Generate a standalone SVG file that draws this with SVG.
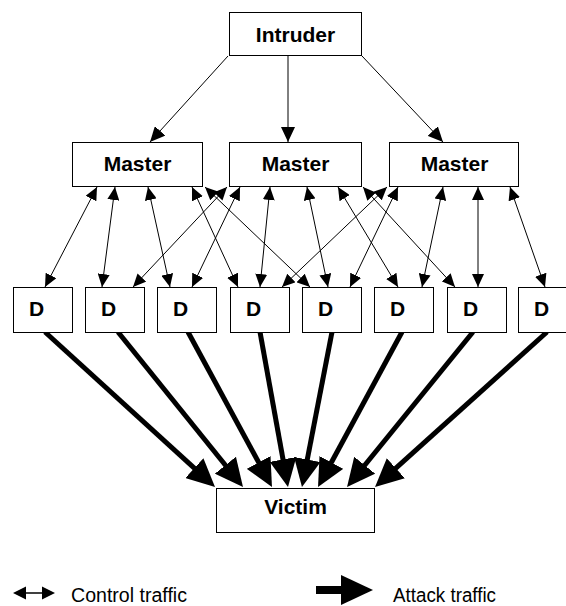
<svg xmlns="http://www.w3.org/2000/svg" width="566" height="606" viewBox="0 0 566 606">
  <style>
    .box { fill: #fff; stroke: #000; stroke-width: 1; }
    .lbl { font-family: "Liberation Sans", Arial, sans-serif; font-weight: bold; font-size: 21px; fill: #000; text-anchor: middle; }
    .dl { font-family: "Liberation Sans", Arial, sans-serif; font-weight: bold; font-size: 21px; fill: #000; }
    .leg { font-family: "Liberation Sans", Arial, sans-serif; font-size: 20px; fill: #000; }
    .cmd { stroke: #000; stroke-width: 1; fill: none; marker-end: url(#headCmd); }
    .ctl { stroke: #000; stroke-width: 1; fill: none; marker-start: url(#headCtl); marker-end: url(#headCtl); }
    .atk { stroke: #000; stroke-width: 5; fill: none; marker-end: url(#headAtk); }
  </style>
  <defs>
    <marker id="headCmd" viewBox="0 0 15 14" refX="15" refY="7" markerWidth="15" markerHeight="14" markerUnits="userSpaceOnUse" orient="auto">
      <path d="M0,0 L15,7 L0,14 Z" fill="#000"/>
    </marker>
    <marker id="headCtl" viewBox="0 0 13 12" refX="13" refY="6" markerWidth="13" markerHeight="12" markerUnits="userSpaceOnUse" orient="auto-start-reverse">
      <path d="M0,0 L13,6 L0,12 Z" fill="#000"/>
    </marker>
    <marker id="headAtk" viewBox="0 0 28 27" refX="10" refY="13.5" markerWidth="28" markerHeight="27" markerUnits="userSpaceOnUse" orient="auto">
      <path d="M0,0 L28,13.5 L0,27 Z" fill="#000"/>
    </marker>
  </defs>

  <rect width="566" height="606" fill="#fff"/>

  <!-- connectors -->
  <g id="connectors">
    <!-- intruder to masters -->
    <line class="cmd" x1="228" y1="56" x2="150" y2="142"/>
    <line class="cmd" x1="288" y1="56" x2="288" y2="142"/>
    <line class="cmd" x1="362" y1="56" x2="443" y2="142"/>

    <!-- master 1 control links -->
    <line class="ctl" x1="97" y1="187" x2="45" y2="287"/>
    <line class="ctl" x1="115" y1="187" x2="102" y2="287"/>
    <line class="ctl" x1="148" y1="187" x2="170" y2="287"/>
    <line class="ctl" x1="192" y1="187" x2="238" y2="287"/>
    <line class="ctl" x1="205" y1="187" x2="310" y2="287"/>

    <!-- master 2 control links -->
    <line class="ctl" x1="227" y1="187" x2="133" y2="287"/>
    <line class="ctl" x1="240" y1="187" x2="192" y2="287"/>
    <line class="ctl" x1="270" y1="187" x2="260" y2="287"/>
    <line class="ctl" x1="307" y1="187" x2="328" y2="287"/>
    <line class="ctl" x1="338" y1="187" x2="398" y2="287"/>
    <line class="ctl" x1="363" y1="187" x2="455" y2="287"/>

    <!-- master 3 control links -->
    <line class="ctl" x1="387" y1="187" x2="282" y2="287"/>
    <line class="ctl" x1="398" y1="187" x2="350" y2="287"/>
    <line class="ctl" x1="443" y1="187" x2="422" y2="287"/>
    <line class="ctl" x1="478" y1="187" x2="478" y2="287"/>
    <line class="ctl" x1="510" y1="187" x2="545" y2="287"/>

    <!-- attack traffic to victim -->
    <line class="atk" x1="45" y1="332" x2="201.7" y2="474.9"/>
    <line class="atk" x1="118" y1="332" x2="231.7" y2="473.0"/>
    <line class="atk" x1="188" y1="332" x2="263.4" y2="471.2"/>
    <line class="atk" x1="260" y1="332" x2="284.8" y2="469.3"/>
    <line class="atk" x1="332" y1="332" x2="305.4" y2="469.3"/>
    <line class="atk" x1="402" y1="332" x2="326.6" y2="471.2"/>
    <line class="atk" x1="473" y1="332" x2="358.4" y2="473.0"/>
    <line class="atk" x1="547" y1="332" x2="388.4" y2="474.9"/>
  </g>

  <!-- nodes -->
  <g id="intruder">
    <rect class="box" x="229.5" y="12.5" width="132" height="43"/>
    <text class="lbl" x="295.5" y="41.5">Intruder</text>
  </g>

  <g id="master1">
    <rect class="box" x="72.5" y="142.5" width="130" height="44"/>
    <text class="lbl" x="137.5" y="170.5">Master</text>
  </g>
  <g id="master2">
    <rect class="box" x="229.5" y="142.5" width="132" height="44"/>
    <text class="lbl" x="295.5" y="170.5">Master</text>
  </g>
  <g id="master3">
    <rect class="box" x="389.5" y="142.5" width="129" height="44"/>
    <text class="lbl" x="454.5" y="170.5">Master</text>
  </g>

  <g id="d1"><rect class="box" x="13.5" y="287.5" width="59" height="45"/><text class="dl" x="29" y="315.5">D</text></g>
  <g id="d2"><rect class="box" x="85.5" y="287.5" width="59" height="45"/><text class="dl" x="101" y="315.5">D</text></g>
  <g id="d3"><rect class="box" x="157.5" y="287.5" width="59" height="45"/><text class="dl" x="173" y="315.5">D</text></g>
  <g id="d4"><rect class="box" x="230.5" y="287.5" width="59" height="45"/><text class="dl" x="246" y="315.5">D</text></g>
  <g id="d5"><rect class="box" x="302.5" y="287.5" width="59" height="45"/><text class="dl" x="318" y="315.5">D</text></g>
  <g id="d6"><rect class="box" x="374.5" y="287.5" width="59" height="45"/><text class="dl" x="390" y="315.5">D</text></g>
  <g id="d7"><rect class="box" x="447.5" y="287.5" width="59" height="45"/><text class="dl" x="463" y="315.5">D</text></g>
  <g id="d8"><rect class="box" x="518.5" y="287.5" width="59" height="45"/><text class="dl" x="534" y="315.5">D</text></g>

  <g id="victim">
    <rect class="box" x="216.5" y="488.5" width="158" height="44"/>
    <text class="lbl" x="295.5" y="514">Victim</text>
  </g>

  <!-- legend -->
  <g id="legend">
    <line x1="24" y1="593" x2="44" y2="593" stroke="#000" stroke-width="1.5"/>
    <path d="M13,593 L26,586.5 L26,599.5 Z" fill="#000"/>
    <path d="M55,593 L42,586.5 L42,599.5 Z" fill="#000"/>
    <text class="leg" x="71" y="602" textLength="116" lengthAdjust="spacingAndGlyphs">Control traffic</text>

    <rect x="316" y="586" width="27" height="8" fill="#000"/>
    <path d="M341,575 L373,590 L341,605 Z" fill="#000"/>
    <text class="leg" x="393" y="602" textLength="103" lengthAdjust="spacingAndGlyphs">Attack traffic</text>
  </g>
</svg>
